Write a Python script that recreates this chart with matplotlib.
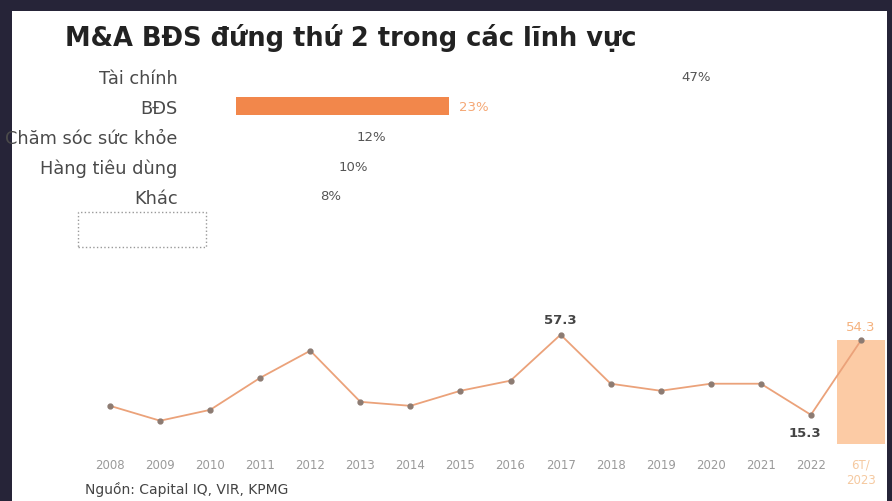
import numpy as np
import matplotlib.pyplot as plt
from matplotlib.patches import Rectangle

# ti le M&A theo linh vuc
sectors = ["Tài chính", "BĐS", "Chăm sóc sức khỏe", "Hàng tiêu dùng", "Khác"]
shares = [47, 23, 12, 10, 8]

# gia tri M&A BDS theo nam
years = ["2008", "2009", "2010", "2011", "2012", "2013", "2014", "2015",
         "2016", "2017", "2018", "2019", "2020", "2021", "2022", "6T/\n2023"]
values = [20.0, 12.2, 17.9, 34.7, 48.9, 22.1, 20.0, 27.9,
          33.2, 57.3, 31.6, 27.9, 31.6, 31.6, 15.3, 54.3]

W, H = 892, 502
fig = plt.figure(figsize=(W / 100, H / 100), dpi=100)
fig.patch.set_facecolor("#262438")
fig.patches.append(Rectangle((12 / W, 0), (887 - 12) / W, (H - 12) / H,
                             transform=fig.transFigure, facecolor="white",
                             edgecolor="none", zorder=-10))

def px(x0, y0, x1, y1):
    return [x0 / W, 1 - y1 / H, (x1 - x0) / W, (y1 - y0) / H]

fig.text(65 / W, 1 - 38 / H, "M&A BĐS đứng thứ 2 trong các lĩnh vực",
         fontsize=18.5, fontweight="bold", color="#222222", va="center")

# --- top: horizontal bars
ax1 = fig.add_axes(px(236, 62, 736, 212))
ax1.set_facecolor("none")
pos = np.arange(len(sectors))
colors = ["white"] * len(sectors)
colors[1] = "#F2874B"
ax1.barh(pos, shares, height=0.6, color=colors)
ax1.set_xlim(0, 500 / 9.26)
ax1.set_ylim(len(sectors) - 0.5, -0.5)
ax1.set_yticks(pos)
ax1.set_yticklabels(sectors, fontsize=12.8, color="#4a4a4a")
ax1.tick_params(axis="y", length=0, pad=42)
ax1.set_xticks([])
for s in ax1.spines.values():
    s.set_visible(False)
for i, v in enumerate(shares):
    c = "#F5A774" if i == 1 else "#555555"
    ax1.annotate(f"{v}%", (v, i), xytext=(7, 0), textcoords="offset points",
                 va="center", ha="left", fontsize=9.5, color=c)

fig.patches.append(Rectangle((78 / W, 1 - 248 / H), 128 / W, 35 / H,
                             transform=fig.transFigure, fill=False,
                             edgecolor="#999999", linestyle=":", lw=1))

# --- bottom: line chart
ax2 = fig.add_axes(px(85, 300, 888, 445))
ax2.set_facecolor("none")
x = np.arange(len(years))
ax2.bar(x[-1], values[-1], width=0.96, color="#FCCBA5", zorder=1)
ax2.plot(x, values, color="#EBA27A", lw=1.3, marker="o", ms=3.5,
         mfc="#8C7B72", mec="#8C7B72", zorder=2)
ax2.set_xlim(-0.5, 15.54)
ax2.set_ylim(0, 76)
ax2.set_yticks([])
ax2.set_xticks(x)
ax2.set_xticklabels(years, fontsize=8.5, color="#9A9A9A")
ax2.get_xticklabels()[-1].set_color("#F5C9A0")
ax2.tick_params(axis="x", length=0, pad=10)
for s in ax2.spines.values():
    s.set_visible(False)

ax2.annotate("57.3", (9, 57.3), xytext=(0, 6), textcoords="offset points",
             ha="center", va="bottom", fontsize=9.5, fontweight="bold", color="#444444")
ax2.annotate("15.3", (14, 15.3), xytext=(-4, -8), textcoords="offset points",
             ha="center", va="top", fontsize=9.5, fontweight="bold", color="#444444")
ax2.annotate("54.3", (15, 54.3), xytext=(0, 5), textcoords="offset points",
             ha="center", va="bottom", fontsize=9.5, color="#F5B27E")

fig.text(85 / W, 1 - 490 / H, "Nguồn: Capital IQ, VIR, KPMG", fontsize=10,
         color="#444444", va="center")

fig.savefig("out.png", dpi=100, facecolor=fig.get_facecolor())
